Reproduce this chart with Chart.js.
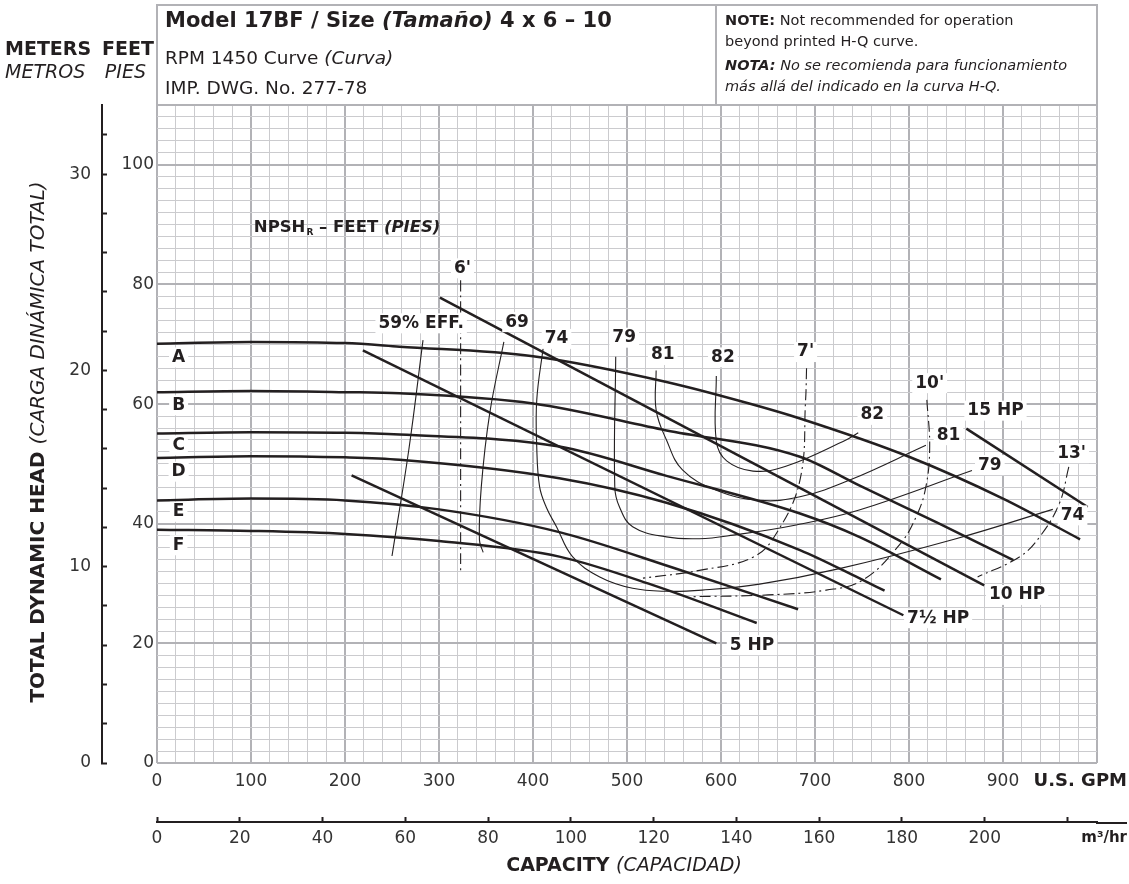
<!DOCTYPE html>
<html>
<head>
<meta charset="utf-8">
<script src="https://cdn.jsdelivr.net/npm/chart.js@4.4.1/dist/chart.umd.min.js"></script>
<style>
  html, body { margin: 0; padding: 0; background: #fff; }
  #c { display: block; }
</style>
</head>
<body>
<canvas id="c" width="1129" height="884"></canvas>
<script>
// ---- data: all points are [U.S. GPM, feet of head] ----

// impeller H-Q curves
var curveA = [[0,70.1],[100,70.4],[200,70.2],[258,69.6],[400,68.0],[542,63.7],[630,60.1],[684,57.6],[800,51.2],[900,44.2],[982,37.4]];
var curveB = [[0,62.0],[100,62.2],[200,62.0],[258,61.8],[400,60.1],[542,55.6],[684,51.2],[747,46.4],[830,40.2],[911,33.9]];
var curveC = [[0,55.1],[100,55.3],[200,55.2],[258,54.9],[428,52.9],[542,48.0],[684,41.7],[747,37.8],[834,30.7]];
var curveD = [[0,51.0],[100,51.3],[200,51.1],[258,50.7],[428,47.6],[542,43.5],[684,35.6],[747,30.9],[774,28.8]];
var curveE = [[0,43.9],[100,44.2],[200,43.9],[300,42.4],[428,38.6],[550,32.6],[682,25.7]];
var curveF = [[0,39.0],[100,38.8],[200,38.3],[300,37.1],[428,34.5],[530,29.6],[638,23.4]];
var curveNames = ['A','B','C','D','E','F'];
var letterHeads = [67.8, 59.8, 53.1, 48.7, 42.0, 36.4];
var letterGpm = 23;

// horsepower lines
var hp15 = [[861,55.9],[990,42.8]];
var hp10 = [[301,77.8],[880,29.7]];
var hp75 = [[219,69.0],[794,24.7]];
var hp5  = [[207,48.1],[595,20.0]];

// efficiency contours
var eff59 = [[283,70.7],[268,52.5],[250,34.6]];
var eff69 = [[369,70.4],[354,58.5],[345,46.2],[343,37.3],[347,35.2]];
var eff74 = [[411,69.6],[404,60.7],[404,52.8],[407,46.2],[414,42.8],[425,39.5],[442,34.5],[471,31.1],[506,29.2],[542,28.7],[580,28.9],[641,29.9],[726,32.5],[850,37.5],[953,42.4]];
var eff79 = [[488,67.9],[487,46.2],[492,42.8],[506,39.5],[542,37.8],[577,37.5],[613,38.1],[680,39.8],[747,42.3],[867,48.9]];
var eff81 = [[531,65.6],[531,59.0],[542,54.0],[559,49.0],[595,45.6],[641,43.9],[684,44.5],[737,47.3],[818,53.1]];
var eff82 = [[595,64.7],[595,53.8],[606,50.5],[634,48.8],[669,49.6],[733,54.0],[746,55.2]];

// NPSHr lines
var npsh6  = [[323,80.7],[323,31.9]];
var npsh7  = [[691,66.0],[690,60.7],[684,47.3],[659,38.4],[634,34.4],[577,32.2],[517,30.9]];
var npsh10 = [[819,60.7],[822,52.8],[818,46.2],[808,41.3],[790,36.5],[751,30.6],[712,28.9],[650,28.1],[570,27.8]];
var npsh13 = [[970,49.5],[960,43.4],[939,37.8],[918,34.5],[873,31.1]];

// curve labels: [text, gpm, feet]
var effLabels = [['59% EFF.',281,73.5],['69',383,73.7],['74',425,70.9],['79',497,71.1],['81',538,68.2],['82',602,67.8],
                 ['82',761,58.2],['81',842,54.8],['79',886,49.8],['74',974,41.4]];
var hpLabels = [['15 HP',892,58.9],['10 HP',915,28.1],['7\u00bd HP',831,24.2],['5 HP',633,19.7]];
var npshLabels = [["6'",325,82.7],["7'",690,68.7],["10'",822,63.5],["13'",973,51.8]];

// tick labels
var gpmLabels = [0,100,200,300,400,500,600,700,800,900];
var feetLabels = [0,20,40,60,80,100];
var meterLabels = [0,10,20,30];
var m3hLabels = [0,20,40,60,80,100,120,140,160,180,200];

var GPM_PER_M3H = 4.402868;
var FT_PER_M = 3.28084;

var INK = '#231f20';
var MAJOR = '#b2b2b6';
var MINOR = '#cbcbce';
var FAM = '"DejaVu Sans", sans-serif';

function f(style, size) { return style + ' ' + size + 'px ' + FAM; }

function pts(arr) {
  return arr.map(function (p) { return { x: p[0], y: p[1] }; });
}

function line(arr, width, dash, smooth) {
  return {
    data: pts(arr),
    showLine: true,
    borderColor: INK,
    borderWidth: width,
    borderDash: dash || [],
    pointRadius: 0,
    fill: false,
    tension: smooth ? 0.4 : 0,
    xAxisID: 'x',
    yAxisID: 'y'
  };
}

var datasets = [];
[curveA, curveB, curveC, curveD, curveE, curveF].forEach(function (c) {
  var d = line(c, 2.5, null, true);
  d.cubicInterpolationMode = 'monotone';
  datasets.push(d);
});
[hp15, hp10, hp75, hp5].forEach(function (c) { datasets.push(line(c, 2.5)); });
[eff59, eff69, eff74, eff79, eff81, eff82].forEach(function (c) { datasets.push(line(c, 1.1, null, true)); });
[npsh6, npsh7, npsh10, npsh13].forEach(function (c) { datasets.push(line(c, 1.1, [11, 4, 2, 4], true)); });

function isTick(v, list) {
  var r = Math.round(v);
  return Math.abs(v - r) < 1e-6 && list.indexOf(r) >= 0;
}

// write several font runs on one line
function runs(ctx, parts, x, y, align) {
  var w = 0;
  parts.forEach(function (p) { ctx.font = p[1]; w += ctx.measureText(p[0]).width; });
  var cx = align === 'right' ? x - w : (align === 'center' ? x - w / 2 : x);
  ctx.textAlign = 'left';
  parts.forEach(function (p) {
    ctx.font = p[1];
    ctx.fillText(p[0], cx, y);
    cx += ctx.measureText(p[0]).width;
  });
  return w;
}

function tag(ctx, text, x, y, font) {
  ctx.font = font;
  var w = ctx.measureText(text).width;
  ctx.fillStyle = '#fff';
  ctx.fillRect(x - w / 2 - 3, y - 10, w + 6, 20);
  ctx.fillStyle = INK;
  ctx.textAlign = 'center';
  ctx.textBaseline = 'middle';
  ctx.fillText(text, x, y);
}

var decor = {
  id: 'decor',
  beforeDraw: function (chart) {
    var ctx = chart.ctx;
    ctx.save();
    ctx.fillStyle = '#fff';
    ctx.fillRect(0, 0, chart.width, chart.height);
    ctx.restore();
  },
  afterDatasetsDraw: function (chart) {
    var ctx = chart.ctx, sx = chart.scales.x, sy = chart.scales.y;
    var lab = f('bold', 17);
    ctx.save();
    curveNames.forEach(function (n, i) {
      tag(ctx, n, sx.getPixelForValue(letterGpm), sy.getPixelForValue(letterHeads[i]), lab);
    });
    effLabels.concat(hpLabels, npshLabels).forEach(function (l) {
      tag(ctx, l[0], sx.getPixelForValue(l[1]), sy.getPixelForValue(l[2]), lab);
    });

    // NPSHr title
    var nx = sx.getPixelForValue(103), ny = sy.getPixelForValue(89.5);
    ctx.fillStyle = INK;
    ctx.textBaseline = 'middle';
    ctx.font = f('bold', 16.5);
    ctx.textAlign = 'left';
    ctx.fillText('NPSH', nx, ny);
    var w1 = ctx.measureText('NPSH').width;
    ctx.font = f('bold', 9);
    ctx.fillText('R', nx + w1 + 1, ny + 5);
    var w2 = ctx.measureText('R').width + 1;
    runs(ctx, [[' \u2013 FEET ', f('bold', 16.5)], ['(PIES)', f('italic bold', 16.5)]], nx + w1 + w2, ny, 'left');
    ctx.restore();
  },
  afterDraw: function (chart) {
    var ctx = chart.ctx, a = chart.chartArea, xm = chart.scales.xm;
    ctx.save();

    // header box
    ctx.strokeStyle = MAJOR;
    ctx.lineWidth = 2;
    ctx.strokeRect(a.left, 5, a.right - a.left, a.top - 5);
    ctx.beginPath();
    ctx.moveTo(716, 5);
    ctx.lineTo(716, a.top);
    ctx.stroke();

    ctx.fillStyle = INK;
    ctx.textBaseline = 'middle';
    runs(ctx, [['Model 17BF / Size ', f('bold', 21)], ['(Tama\u00f1o)', f('italic bold', 21)], [' 4 x 6 \u2013 10', f('bold', 21)]], 165, 22, 'left');
    runs(ctx, [['RPM 1450 Curve ', f('', 18.5)], ['(Curva)', f('italic', 18.5)]], 165, 59, 'left');
    runs(ctx, [['IMP. DWG. No. 277-78', f('', 18.5)]], 165, 89, 'left');

    runs(ctx, [['NOTE:', f('bold', 14.5)], [' Not recommended for operation', f('', 14.5)]], 725, 21, 'left');
    runs(ctx, [['beyond printed H-Q curve.', f('', 14.5)]], 725, 42, 'left');
    runs(ctx, [['NOTA:', f('italic bold', 14.5)], [' No se recomienda para funcionamiento', f('italic', 14.5)]], 725, 66, 'left');
    runs(ctx, [['m\u00e1s all\u00e1 del indicado en la curva H-Q.', f('italic', 14.5)]], 725, 87, 'left');

    // unit headings at the top left
    runs(ctx, [['METERS', f('bold', 19)]], 5, 50, 'left');
    runs(ctx, [['FEET', f('bold', 19)]], 154, 50, 'right');
    runs(ctx, [['METROS', f('italic', 19)]], 5, 73, 'left');
    runs(ctx, [['PIES', f('italic', 19)]], 146, 73, 'right');

    // y title
    ctx.save();
    ctx.translate(44, 442);
    ctx.rotate(-Math.PI / 2);
    ctx.textBaseline = 'alphabetic';
    runs(ctx, [['TOTAL DYNAMIC HEAD ', f('bold', 20)], ['(CARGA DIN\u00c1MICA TOTAL)', f('italic', 20)]], 0, 0, 'center');
    ctx.restore();

    // x units and title
    ctx.textBaseline = 'middle';
    runs(ctx, [['U.S. GPM', f('bold', 18)]], 1127, 781, 'right');
    runs(ctx, [['m\u00b3/hr', f('bold', 15)]], 1127, 838, 'right');
    runs(ctx, [['CAPACITY ', f('bold', 19)], ['(CAPACIDAD)', f('italic', 19)]], 624, 866, 'center');

    // m3/hr axis line runs on past the grid
    ctx.strokeStyle = INK;
    ctx.lineWidth = 2;
    ctx.beginPath();
    ctx.moveTo(xm.right - 1, xm.top + 1);
    ctx.lineTo(1127, xm.top + 1);
    ctx.stroke();
    ctx.restore();
  }
};

var tickFont = { family: FAM, size: 17 };

function gridColor(major) {
  return function (c) { return c.tick && major(c.tick.value) ? MAJOR : MINOR; };
}
function gridWidth(major) {
  return function (c) { return c.tick && major(c.tick.value) ? 2 : 1; };
}
var majorX = function (v) { return Math.round(v) % 100 === 0; };
var majorY = function (v) { return Math.round(v) % 20 === 0 || Math.round(v) === 110; };

new Chart(document.getElementById('c'), {
  type: 'scatter',
  data: { datasets: datasets },
  options: {
    responsive: false,
    animation: false,
    devicePixelRatio: 1,
    events: [],
    layout: { padding: { left: 60, right: 32, top: 105, bottom: 22 } },
    plugins: { legend: { display: false }, tooltip: { enabled: false } },
    scales: {
      x: {
        type: 'linear', position: 'bottom', min: 0, max: 1000,
        ticks: {
          stepSize: 20, autoSkip: false, maxRotation: 0, padding: 8,
          font: tickFont, color: '#333',
          callback: function (v) { return isTick(v, gpmLabels) ? String(Math.round(v)) : ''; }
        },
        grid: { color: gridColor(majorX), lineWidth: gridWidth(majorX), drawTicks: false },
        border: { display: false },
        afterFit: function (s) { s.height = 59; }
      },
      xm: {
        type: 'linear', position: 'bottom', weight: 1, min: 0, max: 1000 / GPM_PER_M3H,
        ticks: {
          stepSize: 20, includeBounds: false, autoSkip: false, maxRotation: 0, padding: 11,
          font: tickFont, color: '#333',
          callback: function (v) { return isTick(v, m3hLabels) ? String(Math.round(v)) : ''; }
        },
        grid: { drawOnChartArea: false, drawTicks: true, tickLength: -5, tickColor: INK, tickWidth: 2 },
        border: { display: true, color: INK, width: 2 },
        afterFit: function (s) { s.height = 40; }
      },
      y: {
        type: 'linear', position: 'left', min: 0, max: 110,
        ticks: {
          stepSize: 2, autoSkip: false, padding: 3,
          font: tickFont, color: '#333',
          callback: function (v) { return isTick(v, feetLabels) ? String(Math.round(v)) : ''; }
        },
        grid: { color: gridColor(majorY), lineWidth: gridWidth(majorY), drawTicks: false },
        border: { display: false },
        afterFit: function (s) { s.width = 55; }
      },
      ym: {
        type: 'linear', position: 'left', weight: 1, min: 0, max: 110 / FT_PER_M,
        ticks: {
          stepSize: 2, includeBounds: false, autoSkip: false, padding: 16,
          font: tickFont, color: '#333',
          callback: function (v) { return isTick(v, meterLabels) ? String(Math.round(v)) : ''; }
        },
        grid: { drawOnChartArea: false, drawTicks: true, tickLength: -5, tickColor: INK, tickWidth: 2 },
        border: { display: true, color: INK, width: 2 },
        afterFit: function (s) { s.width = 42; }
      }
    }
  },
  plugins: [decor]
});
</script>
</body>
</html>
